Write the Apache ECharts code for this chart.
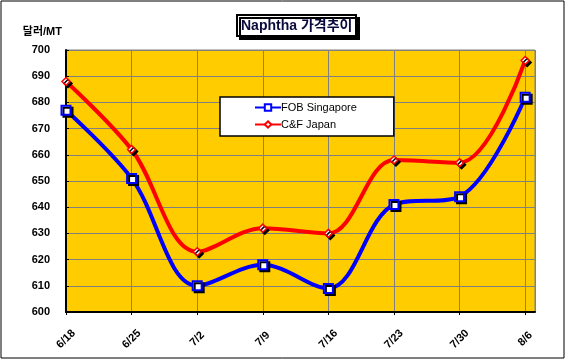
<!DOCTYPE html>
<html><head><meta charset="utf-8">
<script src="https://cdn.jsdelivr.net/npm/echarts@6/dist/echarts.min.js"></script>
<style>html,body{margin:0;padding:0;background:#fff}#c{width:566px;height:364px}</style>
</head><body><div id="c"></div>
<script>
const categories = ['6/18','6/25','7/2','7/9','7/16','7/23','7/30','8/6'];
const fobSingapore = [677, 651, 610, 618, 609, 641, 644, 682];
const cfJapan = [688, 662, 623, 632, 630, 658, 657, 696];
const yTicks = {min: 600, max: 700, interval: 10};

const chart = echarts.init(document.getElementById('c'), null, {renderer: 'canvas'});
const font = 'Arial, "Liberation Sans", "Noto Sans CJK KR", sans-serif';
const symShadow = {shadowColor: '#000', shadowBlur: 0, shadowOffsetX: 2, shadowOffsetY: 2};
chart.setOption({
  backgroundColor: '#fff',
  animation: false,
  graphic: [{type: 'rect', shape: {x: 1, y: 1, width: 563, height: 357}, style: {fill: 'none', stroke: '#000', lineWidth: 1}, z: -1}],
  title: {
    text: 'Naphtha 가격추이', left: 237, top: 15,
    padding: [4, 4, 3, 4],
    backgroundColor: '#fff', borderColor: '#000', borderWidth: 2,
    shadowColor: '#000', shadowBlur: 0, shadowOffsetX: 3, shadowOffsetY: 3,
    textStyle: {fontFamily: font, fontSize: 14, fontWeight: 'bold', color: '#0a0a3c'}
  },
  legend: {
    left: 220, top: 97, orient: 'vertical',
    backgroundColor: '#fff', borderColor: '#000', borderWidth: 1.5,
    padding: [5, 37, 6, 34], itemGap: 6, itemWidth: 26, itemHeight: 8,
    textStyle: {fontFamily: font, fontSize: 11, color: '#000', padding: [0, 0, 0, -5]},
    data: [{name: 'FOB Singapore'}, {name: 'C&F Japan'}]
  },
  grid: {left: 66, top: 50, right: 31, bottom: 52, show: true, backgroundColor: '#FFCC00', borderColor: '#808080', borderWidth: 1},
  xAxis: {
    type: 'value', min: 0, max: 7.15, interval: 1,
    axisLine: {show: true, onZero: false, lineStyle: {color: '#000', width: 2}},
    axisTick: {show: true, length: 3, lineStyle: {color: '#000'}},
    splitLine: {show: true, lineStyle: {color: '#808080', width: 1}},
    axisLabel: {rotate: 45, margin: 27, align: 'center', verticalAlign: 'middle',
      fontFamily: font, fontSize: 11, fontWeight: 'bold', color: '#000',
      formatter: v => (Number.isInteger(v) ? (categories[v] || '') : ''), showMaxLabel: false}
  },
  yAxis: {
    type: 'value', min: yTicks.min, max: yTicks.max, interval: yTicks.interval,
    name: '달러/MT', nameLocation: 'end', nameGap: 13,
    nameTextStyle: {fontFamily: font, fontSize: 11, fontWeight: 'bold', color: '#000', align: 'right', padding: [0, 4, 0, 0]},
    axisLine: {show: true, lineStyle: {color: '#000', width: 2}},
    axisTick: {show: true, inside: true, length: 3, lineStyle: {color: '#000'}},
    splitLine: {show: true, lineStyle: {color: '#808080', width: 1}},
    axisLabel: {margin: 16, fontFamily: font, fontSize: 11, fontWeight: 'bold', color: '#000'}
  },
  series: [
    {name: 'FOB Singapore', type: 'line', smooth: 0.35,
     data: fobSingapore.map((v, i) => [i, v]),
     symbol: 'rect', symbolSize: 9,
     lineStyle: {color: '#0000FF', width: 4},
     itemStyle: Object.assign({color: '#fff', borderColor: '#0000FF', borderWidth: 2}, symShadow), z: 3},
    {name: 'C&F Japan', type: 'line', smooth: 0.35,
     data: cfJapan.map((v, i) => [i, v]),
     symbol: 'diamond', symbolSize: 8,
     lineStyle: {color: '#FF0000', width: 4},
     itemStyle: Object.assign({color: '#fff', borderColor: '#FF0000', borderWidth: 1.5}, symShadow), z: 4}
  ]
});
</script></body></html>
